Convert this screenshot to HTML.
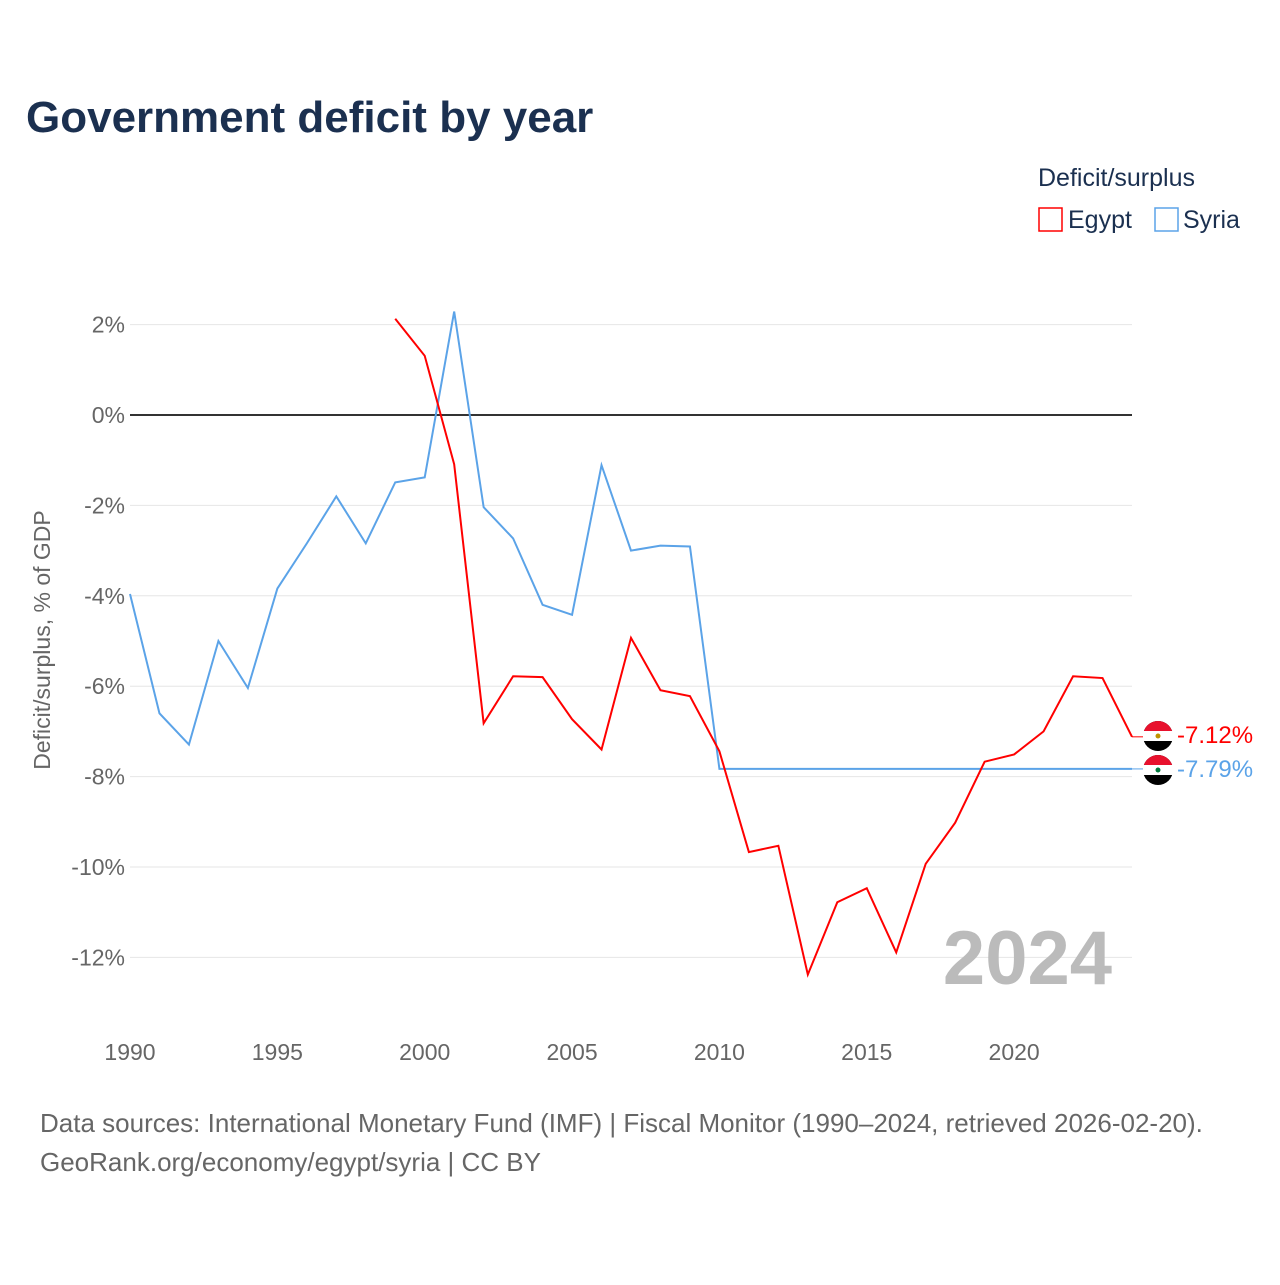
<!DOCTYPE html>
<html><head><meta charset="utf-8"><style>
body{margin:0;background:#fff;font-family:"Liberation Sans",sans-serif}
svg text{font-family:"Liberation Sans",sans-serif}
</style></head><body>
<svg id="chart" width="1280" height="1280" xmlns="http://www.w3.org/2000/svg">
<text x="26" y="132" font-size="44" font-weight="bold" fill="#1b3050">Government deficit by year</text>
<text x="1038" y="186" font-size="25" fill="#1b3050">Deficit/surplus</text>
<g><rect x="1039" y="208" width="23" height="23" fill="none" stroke="#f00" stroke-width="1.5"/><text x="1068" y="228" font-size="25" fill="#1b3050">Egypt</text></g>
<g><rect x="1155" y="208" width="23" height="23" fill="none" stroke="#5ba3e8" stroke-width="1.5"/><text x="1183" y="228" font-size="25" fill="#1b3050">Syria</text></g>
<text transform="translate(50,640) rotate(-90)" text-anchor="middle" font-size="23" fill="#666">Deficit/surplus, % of GDP</text>
<g id="grid"></g><g id="xt"></g>
<text x="1112" y="984" text-anchor="end" font-size="76" font-weight="bold" fill="#bbb">2024</text>
<g id="series"></g>
<text x="40" y="1132" font-size="26" fill="#666">Data sources: International Monetary Fund (IMF) | Fiscal Monitor (1990–2024, retrieved 2026-02-20).</text>
<text x="40" y="1171" font-size="26" fill="#666">GeoRank.org/economy/egypt/syria | CC BY</text>
</svg>
<script>
const yTicks=[2,0,-2,-4,-6,-8,-10,-12];
const xTicks=[1990,1995,2000,2005,2010,2015,2020];
const syriaYears=[1990,1991,1992,1993,1994,1995,1996,1997,1998,1999,2000,2001,2002,2003,2004,2005,2006,2007,2008,2009,2010,2011,2012,2013,2014,2015,2016,2017,2018,2019,2020,2021,2022,2023,2024];
const syriaValues=[-3.96,-6.6,-7.29,-5.0,-6.04,-3.84,-2.84,-1.8,-2.84,-1.49,-1.38,2.29,-2.04,-2.73,-4.2,-4.42,-1.11,-3.0,-2.89,-2.91,-7.83,-7.83,-7.83,-7.83,-7.83,-7.83,-7.83,-7.83,-7.83,-7.83,-7.83,-7.83,-7.83,-7.83,-7.83];
const egyptYears=[1999,2000,2001,2002,2003,2004,2005,2006,2007,2008,2009,2010,2011,2012,2013,2014,2015,2016,2017,2018,2019,2020,2021,2022,2023,2024];
const egyptValues=[2.13,1.31,-1.09,-6.82,-5.78,-5.8,-6.73,-7.4,-4.93,-6.09,-6.22,-7.44,-9.67,-9.53,-12.38,-10.78,-10.47,-11.89,-9.93,-9.02,-7.67,-7.51,-7.0,-5.78,-5.82,-7.12];
const NS="http://www.w3.org/2000/svg";
const X=y=>130+(y-1990)*(1132-130)/34;
const Y=v=>415-v*45.2;
function mk(t,a,p){const e=document.createElementNS(NS,t);for(const k in a)e.setAttribute(k,a[k]);p.appendChild(e);return e;}
const grid=document.getElementById('grid');
yTicks.forEach(v=>{
 const l=mk('line',{x1:130,x2:1132,y1:Y(v),y2:Y(v),stroke:v===0?'#333':'#e6e6e6','stroke-width':v===0?2:1},grid);
 
 
 const t=mk('text',{x:125,y:Y(v)+8,'text-anchor':'end','font-size':23,fill:'#666'},grid);
 t.textContent=v+'%';
 
 
});
const xt=document.getElementById('xt');
xTicks.forEach(y=>{
 const t=mk('text',{x:X(y),y:1060,'text-anchor':'middle','font-size':23,fill:'#666'},xt);
 t.textContent=y;
 
 
});
const sg=document.getElementById('series');
function line(ys,vs,col,name){
 const p=mk('polyline',{points:ys.map((y,i)=>X(y)+','+Y(vs[i])).join(' '),fill:'none',stroke:col,'stroke-width':2},sg);
 
 
 const last=vs[vs.length-1],ly=Y(last);
 mk('line',{x1:X(ys[ys.length-1]),x2:1145,y1:ly,y2:ly,stroke:col,'stroke-width':1},sg);
 return ly;
}
function flag(cy,mid,name,lab,col,ty){
 const g=mk('g',{},sg);
 
 
 mk('circle',{cx:1158,cy:cy,r:15,fill:'#000'},g);
 mk('path',{d:`M1143,${cy} A15,15 0 0 1 1173,${cy} Z`,fill:'#e8112d'},g);
 mk('rect',{x:1143,y:cy-5,width:30,height:10,fill:'#fff'},g);
 mk('circle',{cx:1158,cy:cy,r:2.5,fill:mid},g);
 const t=mk('text',{x:1177,y:ty,'font-size':24,fill:col},sg);
 t.textContent=lab;
 
 
}
line(syriaYears,syriaValues,'#5ba3e8','syria-line');
line(egyptYears,egyptValues,'#f00','egypt-line');
flag(736,'#c09300','egypt-flag',egyptValues[egyptValues.length-1].toFixed(2)+'%','#f00',743);
flag(770,'#007a3d','syria-flag','-7.79%','#5ba3e8',777);
</script>
</body></html>
